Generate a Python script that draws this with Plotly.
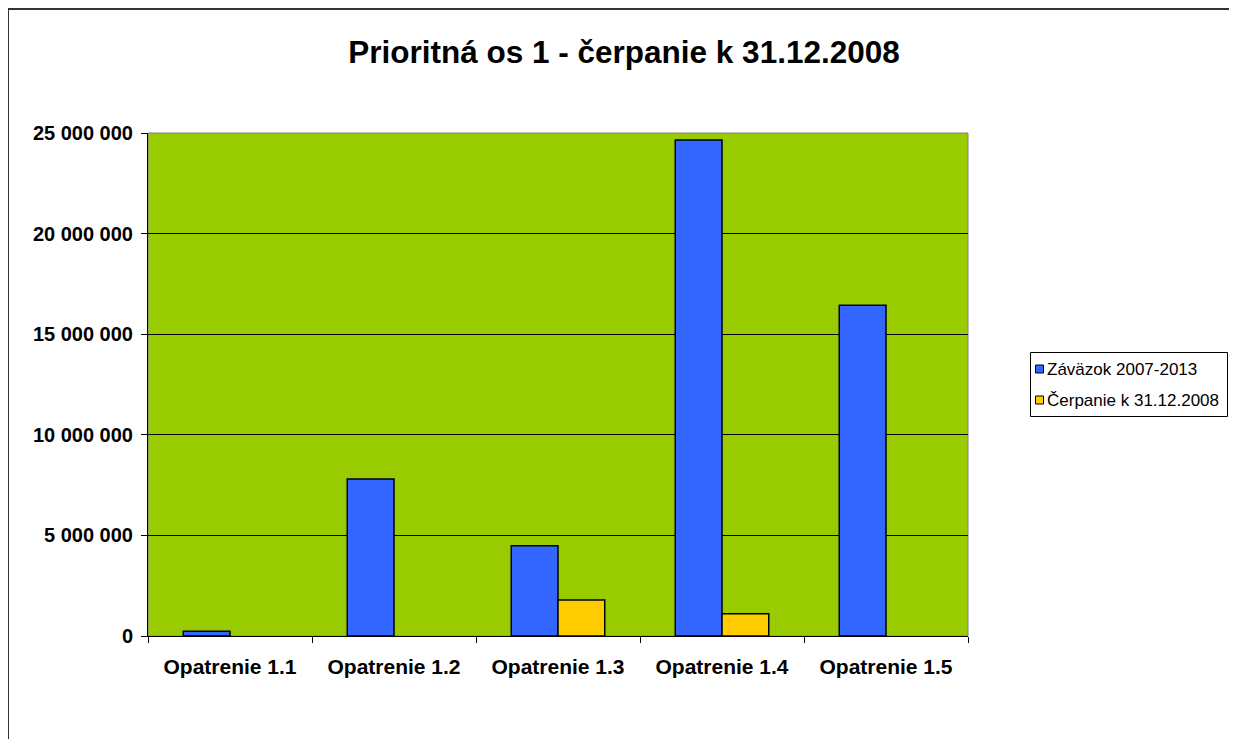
import plotly.graph_objects as go

categories = ["Opatrenie 1.1", "Opatrenie 1.2", "Opatrenie 1.3", "Opatrenie 1.4", "Opatrenie 1.5"]
zavazok = [230000, 7800000, 4490000, 24650000, 16440000]
cerpanie = [0, 0, 1790000, 1110000, 0]
y_ticks = [0, 5000000, 10000000, 15000000, 20000000, 25000000]
y_tick_labels = ["0", "5 000 000", "10 000 000", "15 000 000", "20 000 000", "25 000 000"]
series_names = ["Záväzok 2007-2013", "Čerpanie k 31.12.2008"]
series_colors = ["#3366FF", "#FFCC00"]

# page has an 8px body margin; figure coordinates = page - 8
OFF = 8
W, H = 1237 - OFF, 739 - OFF
L, R, T, B = 148 - OFF, 968 - OFF, 133 - OFF, 636 - OFF


def px(x):
    return (x - OFF - L) / (R - L)


def py(y):
    return (B - (y - OFF)) / (B - T)


def outline(vals):
    return [0 if v == 0 else 1.5 for v in vals]


fig = go.Figure()
for name, color, vals in zip(series_names, series_colors, [zavazok, cerpanie]):
    fig.add_trace(go.Bar(
        x=categories, y=vals, name=name,
        marker=dict(color=color, line=dict(color="#000000", width=outline(vals))),
    ))

font = "Liberation Sans, Arial, sans-serif"

fig.update_layout(
    width=W, height=H,
    margin=dict(l=L, r=W - R, t=T, b=H - B, pad=0, autoexpand=False),
    paper_bgcolor="white",
    plot_bgcolor="#99CC00",
    barmode="group",
    bargap=0.43,
    bargroupgap=0,
    font=dict(family=font, color="black"),
    title=dict(
        text="<b>Prioritná os 1 - čerpanie k 31.12.2008</b>",
        x=px(624), xref="paper", xanchor="center",
        y=1 - (52 - OFF) / H, yref="container", yanchor="middle",
        font=dict(size=31.5, family=font, color="black"),
    ),
    showlegend=False,
)

fig.update_xaxes(
    type="category",
    tickson="boundaries",
    ticks="outside", ticklen=6, tickcolor="black", tickwidth=1,
    showline=True, linecolor="black", linewidth=1,
    showgrid=False,
    tickfont=dict(size=21, family=font, color="black", weight="bold"),
    ticklabelstandoff=12,
)
fig.update_yaxes(
    range=[0, 25000000],
    tickvals=y_ticks, ticktext=y_tick_labels,
    ticks="outside", ticklen=6, tickcolor="black", tickwidth=1,
    showline=True, linecolor="black", linewidth=1,
    showgrid=True, gridcolor="black", gridwidth=1,
    zeroline=False,
    tickfont=dict(size=20, family=font, color="black", weight="bold"),
    ticklabelstandoff=4,
)

# plot area border (gray) and outer chart border
fig.add_shape(type="rect", xref="paper", yref="paper", x0=0, x1=1, y0=0, y1=1,
              line=dict(color="#808080", width=1), layer="below")
fig.add_shape(type="line", xref="paper", yref="paper",
              x0=px(8), x1=px(1245), y0=py(9), y1=py(9),
              line=dict(color="#333333", width=2))
fig.add_shape(type="line", xref="paper", yref="paper",
              x0=px(8), x1=px(8), y0=py(9), y1=py(750),
              line=dict(color="#333333", width=2))

# legend box (drawn like the original Excel legend)
fig.add_shape(type="rect", xref="paper", yref="paper",
              x0=px(1030.5), x1=px(1227.5), y0=py(352.5), y1=py(416.5),
              line=dict(color="black", width=1), fillcolor="white")
row_y = [369, 400]
for name, color, yc in zip(series_names, series_colors, row_y):
    fig.add_shape(type="rect", xref="paper", yref="paper",
                  x0=px(1035.5), x1=px(1043.5), y0=py(yc - 4), y1=py(yc + 4),
                  line=dict(color="black", width=1), fillcolor=color)
    fig.add_annotation(
        text=name, xref="paper", yref="paper",
        x=px(1045), y=py(yc), xanchor="left", yanchor="middle",
        showarrow=False, font=dict(size=17, family=font, color="black"),
    )

fig.write_html("out.html")
